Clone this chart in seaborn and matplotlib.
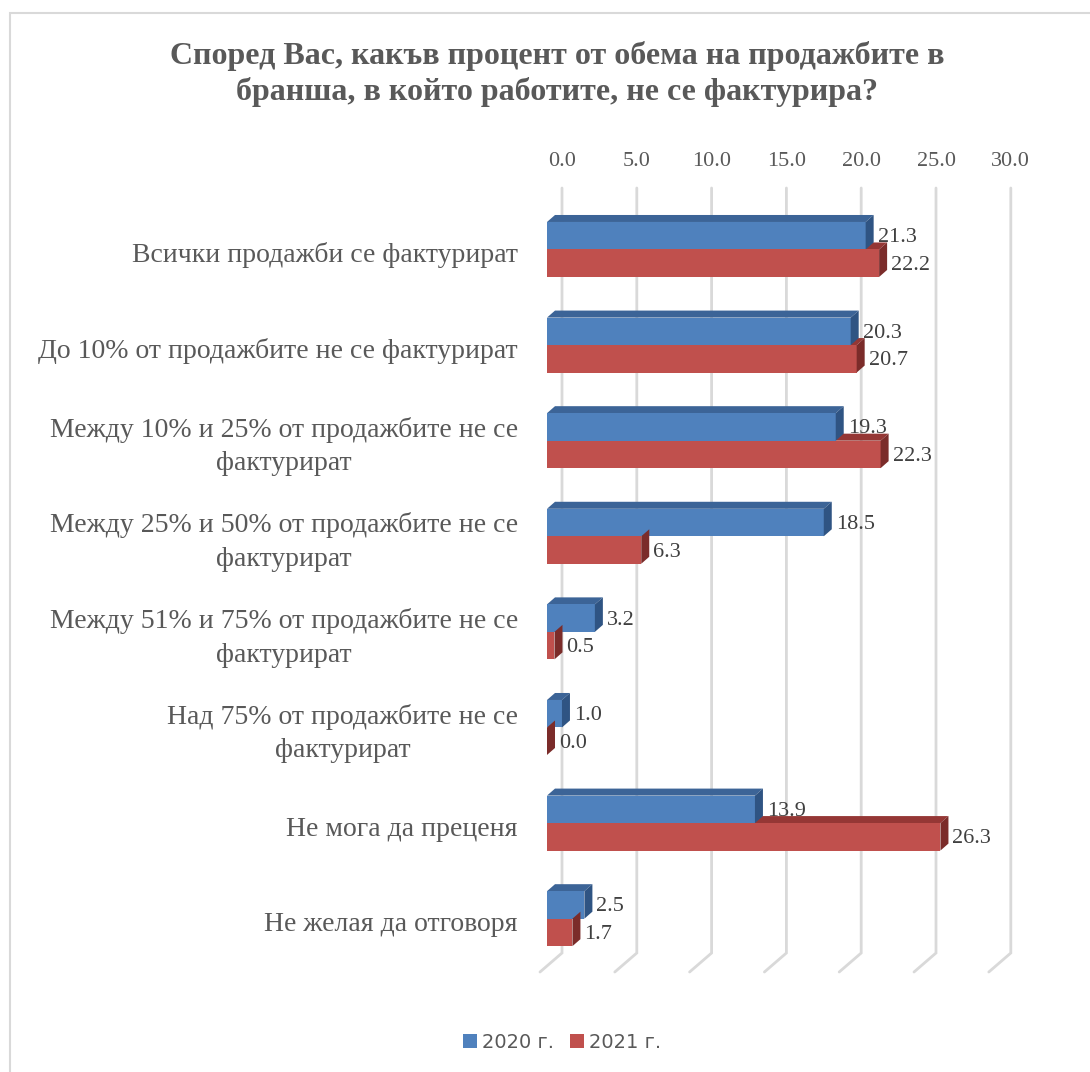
import numpy as np
import pandas as pd
import matplotlib
matplotlib.use("Agg")
import matplotlib.pyplot as plt
import seaborn as sns
from matplotlib.patches import Polygon, Rectangle, Patch

# ---- data ----
categories = [
    "Всички продажби се фактурират",
    "До 10% от продажбите не се фактурират",
    "Между 10% и 25% от продажбите не се\nфактурират",
    "Между 25% и 50% от продажбите не се\nфактурират",
    "Между 51% и 75% от продажбите не се\nфактурират",
    "Над 75% от продажбите не се\nфактурират",
    "Не мога да преценя",
    "Не желая да отговоря",
]
years = ["2020 г.", "2021 г."]
values_2020 = [21.3, 20.3, 19.3, 18.5, 3.2, 1.0, 13.9, 2.5]
values_2021 = [22.2, 20.7, 22.3, 6.3, 0.5, 0.0, 26.3, 1.7]
x_ticks = [0, 5, 10, 15, 20, 25, 30]
title = ("Според Вас, какъв процент от обема на продажбите в\n"
         "бранша, в който работите, не се фактурира?")

# ---- style ----
W, H, DPI = 1090, 1072, 100
sns.set_theme(style="white")
plt.rcParams["font.family"] = ["Liberation Serif", "DejaVu Serif"]

front_col = {"2020 г.": "#4F81BD", "2021 г.": "#C0504D"}
top_col = {"2020 г.": "#3C6497", "2021 г.": "#953735"}
side_col = {"2020 г.": "#2F5483", "2021 г.": "#7B2C2A"}
grid_col = "#D9D9D9"
text_col = "#595959"
label_col = "#404040"
DX, DY = 8, 7          # bar depth in pixels
GX = 15                # back-wall offset of the gridlines in pixels

fig = plt.figure(figsize=(W / DPI, H / DPI), dpi=DPI)
fig.patch.set_facecolor("white")
ax = fig.add_axes([547 / W, 1 - 955 / H, 448.8 / W, 765 / H])

df = pd.DataFrame({
    "category": categories * 2,
    "value": values_2020 + values_2021,
    "year": [years[0]] * len(categories) + [years[1]] * len(categories),
})
sns.barplot(data=df, y="category", x="value", hue="year", hue_order=years,
            orient="h", palette=[front_col[y] for y in years], width=0.575,
            gap=0, saturation=1, linewidth=0, legend=False, ax=ax)

ax.set_xlim(0, 30)
ax.set_ylim(7.38, -0.622)
for s in ax.spines.values():
    s.set_visible(False)
ax.set_xlabel("")
ax.set_ylabel("")
ax.set_xticks([])
ax.set_yticks(range(len(categories)))
ax.set_yticklabels([])
ax.tick_params(axis="y", length=0)
ax.grid(False)

to_disp = ax.transData.transform
to_data = ax.transData.inverted().transform

# category labels, right-aligned beside the bars
for i, cat in enumerate(categories):
    ax.annotate(cat, xy=(0, i), xytext=(-29 * 0.72, -6 * 0.72),
                textcoords="offset points", ha="right", va="center",
                multialignment="center", linespacing=1.45, fontsize=20,
                color=text_col, annotation_clip=False)


def poly(points, color, z):
    pts = to_data(np.array(points, dtype=float))
    ax.add_patch(Polygon(pts, closed=True, facecolor=color, edgecolor="none",
                         zorder=z, clip_on=False))


# gridlines on the back wall with the floor edge
for v in x_ticks:
    xb = to_disp((v, 0))[0] + GX
    pts = to_data(np.array([[xb, H - 188], [xb, H - 953], [xb - 22, H - 972]]))
    ax.plot(pts[:, 0], pts[:, 1], color=grid_col, lw=2.0, zorder=1,
            clip_on=False, solid_joinstyle="miter")
    xt = to_data((xb, H - 162))
    ax.text(xt[0], xt[1], f"{v:.1f}", ha="center", va="center",
            fontsize=16, color=text_col)

# 3-D bar faces and value labels
zbase = {"2020 г.": 4, "2021 г.": 6}
for year, cont in zip(years, ax.containers):
    for bar, val in zip(cont.patches, cont.datavalues):
        x0, y0 = bar.get_x(), bar.get_y()
        w, h = bar.get_width(), bar.get_height()
        (L, B), (R, T) = to_disp((x0, y0 + h)), to_disp((x0 + w, y0))
        z = zbase[year]
        top = [(L, T), (R, T), (R + DX, T + DY), (L + DX, T + DY)]
        side = [(R, B), (R, T), (R + DX, T + DY), (R + DX, B + DY)]
        poly(top, top_col[year], 3 if year == years[1] else z)
        poly(side, side_col[year], z + 0.5)
        bar.set_zorder(z + 0.2)
        ax.annotate(f"{val:.1f}", xy=(val, y0 + h / 2),
                    xytext=(12 * 0.72, -2 * 0.72), textcoords="offset points",
                    ha="left", va="center", fontsize=16, color=label_col,
                    zorder=2 if year == years[0] else 8, annotation_clip=False)

# title
fig.text(557 / W, 1 - 74 / H, title, ha="center", va="center", fontsize=23,
         fontweight="bold", color=text_col, linespacing=1.3)

# legend
handles = [Patch(facecolor=front_col[y], edgecolor="none", label=y) for y in years]
fig.legend(handles=handles, loc="center", bbox_to_anchor=(562 / W, 1 - 1042 / H),
           ncol=2, frameon=False, handlelength=0.75, handleheight=0.75,
           handletextpad=0.25, columnspacing=0.8, labelcolor=text_col,
           prop={"family": "DejaVu Sans", "size": 14})

# chart border
fig.patches.append(Rectangle((9.5 / W, -0.05), 2.0, (H - 12.5) / H + 0.05,
                             transform=fig.transFigure, fill=False,
                             edgecolor=grid_col, lw=1.5, zorder=0))

fig.savefig("out.png", dpi=DPI)
